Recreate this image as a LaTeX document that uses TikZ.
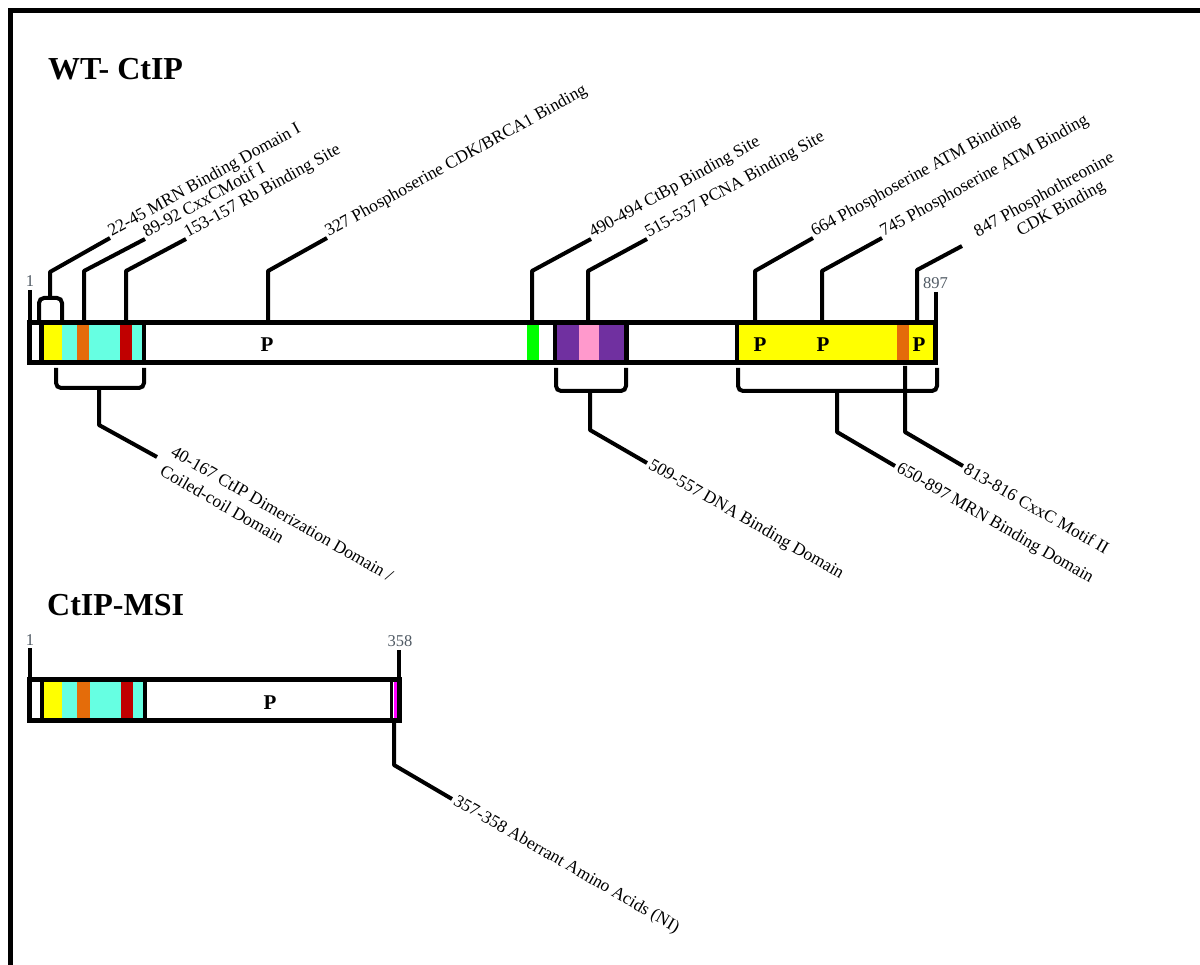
\documentclass[tikz,border=0pt]{standalone}
\usepackage{fontspec}
\setmainfont{Liberation Serif}
\usetikzlibrary{calc}
\definecolor{cyanbox}{HTML}{66FFE2}
\definecolor{yel}{HTML}{FFFF00}
\definecolor{org}{HTML}{E46C0A}
\definecolor{redb}{HTML}{C00000}
\definecolor{grn}{HTML}{00FF00}
\definecolor{purp}{HTML}{7030A0}
\definecolor{pnk}{HTML}{FF99CC}
\definecolor{mag}{HTML}{FF00FF}
\definecolor{numgray}{HTML}{505A64}
\begin{document}
\begin{tikzpicture}[x=1pt,y=-1pt,
  bar/.style={line width=5pt, line join=miter},
  boxline/.style={line width=4.5pt, line join=miter},
  lead/.style={line width=4pt, line join=round},
  brk/.style={line width=4pt, rounded corners=5pt},
  toplab/.style={anchor=base west, rotate=29, inner sep=2pt, font=\fontsize{17.5}{20}\selectfont},
  botlab/.style={anchor=west, rotate=-30, inner sep=3pt, font=\fontsize{17.5}{22}\selectfont},
  titlelab/.style={anchor=base west, inner sep=0pt, font=\fontsize{32}{38}\selectfont\bfseries},
  pmark/.style={font=\fontsize{21}{24}\selectfont\bfseries, inner sep=0pt},
  num/.style={anchor=base, font=\fontsize{16.5}{18}\selectfont, text=numgray, inner sep=0pt},
]
\useasboundingbox (0,0) rectangle (1200,965);
\fill[white] (0,0) rectangle (1200,965);
% frame
\draw[line width=5pt] (10.5,965) -- (10.5,10.5) -- (1200,10.5);

% titles
\node[titlelab] (t1) at (48,80) {WT- CtIP};
\node[titlelab] (t2) at (47,615) {CtIP-MSI};

% ================= WT bar =================
\draw[bar, fill=white] (29.5,322.5) rectangle (935.5,362.5);
% box A
\fill[yel] (43,322.5) rectangle (62,362.5);
\fill[cyanbox] (62,322.5) rectangle (77,362.5);
\fill[org] (77,322.5) rectangle (89,362.5);
\fill[cyanbox] (89,322.5) rectangle (120,362.5);
\fill[redb] (120,322.5) rectangle (132,362.5);
\fill[cyanbox] (132,322.5) rectangle (143,362.5);
\draw[boxline] (41.5,322.5) rectangle (144,362.5);
% green
\fill[grn] (527,324) rectangle (539,361);
% box B
\fill[purp] (555,322.5) rectangle (579,362.5);
\fill[pnk] (579,322.5) rectangle (599,362.5);
\fill[purp] (599,322.5) rectangle (626.5,362.5);
\draw[boxline] (555,322.5) rectangle (626.5,362.5);
% box C
\fill[yel] (737,322.5) rectangle (935.5,362.5);
\fill[org] (897,322.5) rectangle (909,362.5);
\draw[boxline] (737,322.5) rectangle (935.5,362.5);
\draw[bar] (29.5,322.5) rectangle (935.5,362.5);
% P marks
\node[pmark] (p1) at (267,345) {P};
\node[pmark] (p2) at (760,345) {P};
\node[pmark] (p3) at (823,345) {P};
\node[pmark] (p4) at (919,345) {P};

% end ticks
\node[num] (n1) at (30,287) {1};
\draw[lead] (30,290) -- (30,321);
\node[num] (n897) at (935.5,289) {897};
\draw[lead] (936,292) -- (936,321);

% top leaders
\draw[brk] (39,320) -- (39,298) -- (62,298) -- (62,320);
\coordinate (e22) at (110,238);
\draw[lead] (50,298) -- (50,272) -- (e22);
\node[toplab] (l22) at (e22) {22-45 MRN Binding Domain I};

\coordinate (e89) at (145,239);
\draw[lead] (84,320) -- (84,271) -- (e89);
\node[toplab] (l89) at (e89) {89-92 CxxCMotif I};

\coordinate (e153) at (186,239);
\draw[lead] (126,320) -- (126,271) -- (e153);
\node[toplab] (l153) at (e153) {153-157 Rb Binding Site};

\coordinate (e327) at (327,238);
\draw[lead] (268,320) -- (268,271) -- (e327);
\node[toplab] (l327) at (e327) {327 Phosphoserine CDK/BRCA1 Binding};

\coordinate (e490) at (591,239);
\draw[lead] (532,320) -- (532,271) -- (e490);
\node[toplab] (l490) at (e490) {490-494 CtBp Binding Site};

\coordinate (e515) at (647,239);
\draw[lead] (588,320) -- (588,271) -- (e515);
\node[toplab] (l515) at (e515) {515-537 PCNA Binding Site};

\coordinate (e664) at (813,238);
\draw[lead] (755,320) -- (755,271) -- (e664);
\node[toplab] (l664) at (e664) {664 Phosphoserine ATM Binding};

\coordinate (e745) at (882,238);
\draw[lead] (822,320) -- (822,271) -- (e745);
\node[toplab] (l745) at (e745) {745 Phosphoserine ATM Binding};

\coordinate (e847) at (962,246);
\draw[lead] (917,320) -- (917,270) -- (e847);
\node[toplab, inner sep=0pt] (l847a) at (977.7,237.3) {847 Phosphothreonine};
\node[toplab, anchor=base, inner sep=0pt] (l847b) at ($(l847a.base)+(16.7,13.6)$) {CDK Binding};

% bottom leaders
\draw[brk] (56,368) -- (56,388) -- (144,388) -- (144,368);
\coordinate (e40) at (157,457);
\draw[lead] (99,388) -- (99,425) -- (e40);
\node[botlab, align=left, inner sep=0pt] (l40) at ($(e40)+(10,3)$) {40-167 CtIP Dimerization Domain /\\Coiled-coil Domain};

\draw[brk] (556,368) -- (556,391) -- (626,391) -- (626,368);
\coordinate (e509) at (647,463);
\draw[lead] (590,391) -- (590,430) -- (e509);
\node[botlab] (l509) at (e509) {509-557 DNA Binding Domain};

\draw[brk] (738,368) -- (738,391) -- (937,391) -- (937,368);
\coordinate (e650) at (895,466);
\draw[lead] (837,391) -- (837,432) -- (e650);
\node[botlab] (l650) at (e650) {650-897 MRN Binding Domain};

\coordinate (e813) at (963,466);
\draw[lead] (905,366) -- (905,432) -- (e813);
\node[botlab] (l813) at (e813) {813-816 CxxC Motif II};

% ================= MSI bar =================
\draw[bar, fill=white] (29.5,679.5) rectangle (399,720.5);
\fill[yel] (43,679.5) rectangle (62,720.5);
\fill[cyanbox] (62,679.5) rectangle (77,720.5);
\fill[org] (77,679.5) rectangle (90,720.5);
\fill[cyanbox] (90,679.5) rectangle (121,720.5);
\fill[redb] (121,679.5) rectangle (133,720.5);
\fill[cyanbox] (133,679.5) rectangle (144,720.5);
\draw[boxline] (42,679.5) rectangle (145,720.5);
\fill[mag] (393.5,681) rectangle (397,719);
\draw[line width=3.5pt] (391.5,679.5) -- (391.5,720.5);
\draw[bar] (29.5,679.5) rectangle (399,720.5);
\node[pmark] (p5) at (270,703) {P};

\node[num] (m1) at (30,645) {1};
\draw[lead] (30,648) -- (30,679);
\node[num] (m358) at (400,646) {358};
\draw[lead] (399,650) -- (399,679);

\coordinate (e357) at (452,799);
\draw[lead] (394,722) -- (394,765) -- (e357);
\node[botlab] (l357) at (e357) {357-358 Aberrant Amino Acids (NI)};
\end{tikzpicture}
\end{document}
